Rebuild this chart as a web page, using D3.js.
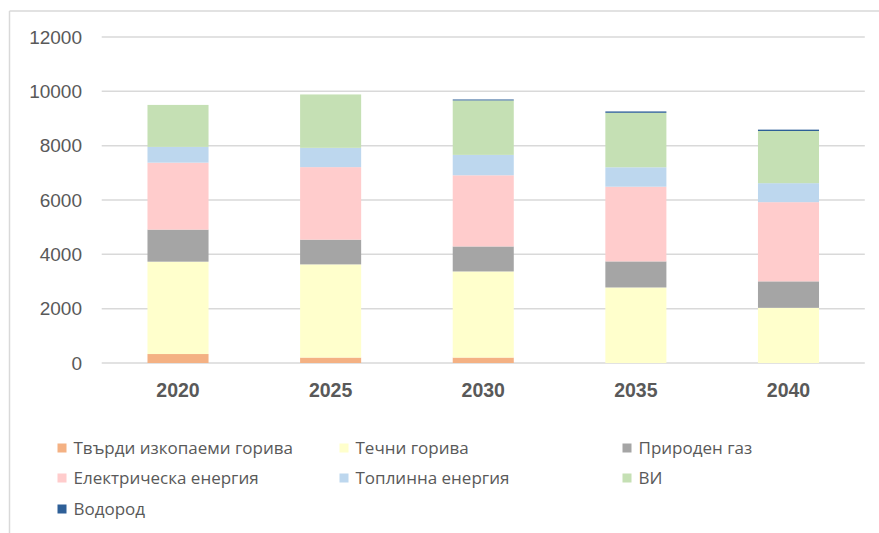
<!DOCTYPE html>
<html><head><meta charset="utf-8">
<script src="https://cdn.jsdelivr.net/npm/d3@7"></script>
<style>body{margin:0;background:#fff}svg{display:block}</style>
</head><body>
<svg id="chart" width="879" height="533"></svg>
<script>
const years = ["2020", "2025", "2030", "2035", "2040"];
const seriesNames = ["Твърди изкопаеми горива", "Течни горива", "Природен газ", "Електрическа енергия", "Топлинна енергия", "ВИ", "Водород"];
const solidFuels = [330, 200, 200, 0, 0];
const liquidFuels = [3400, 3430, 3170, 2780, 2030];
const naturalGas = [1180, 910, 920, 960, 975];
const electricity = [2465, 2670, 2620, 2750, 2915];
const heat = [580, 710, 750, 715, 700];
const renewables = [1545, 1965, 2005, 2005, 1920];
const hydrogen = [0, 0, 35, 50, 50];
const yTicks = [0, 2000, 4000, 6000, 8000, 10000, 12000];
const colors = ["#F4B183", "#FFFFCC", "#A5A5A5", "#FFCCCC", "#BDD7EE", "#C5E0B4", "#2E5F97"];

const seriesValues = [solidFuels, liquidFuels, naturalGas, electricity, heat, renewables, hydrogen];
const keys = seriesNames;
const table = years.map((y, i) => {
  const row = {year: y};
  keys.forEach((k, j) => row[k] = seriesValues[j][i]);
  return row;
});
const stack = d3.stack().keys(keys)(table);

const svg = d3.select("#chart");
const font = "'Liberation Sans', Arial, sans-serif";
const legendFont = "'Open Sans', 'Liberation Sans', sans-serif";
const textColor = "#595959";

// outer border (partial, as in cropped reference)
svg.append("line").attr("x1", 9.5).attr("x2", 9.5).attr("y1", 11).attr("y2", 533).attr("stroke", "#D9D9D9").attr("stroke-width", 1.5);
svg.append("line").attr("x1", 9.5).attr("x2", 879).attr("y1", 11).attr("y2", 11).attr("stroke", "#D9D9D9").attr("stroke-width", 1.5);

const x = d3.scaleBand().domain(years).range([101.7, 864.8]).paddingInner(0.6).paddingOuter(0.3);
const y = d3.scaleLinear().domain([0, 12000]).range([363, 37]);

// gridlines
svg.append("g").selectAll("line").data(yTicks).join("line")
  .attr("x1", 101.7).attr("x2", 864.8)
  .attr("y1", d => y(d)).attr("y2", d => y(d))
  .attr("stroke", "#D9D9D9").attr("stroke-width", 1.5);

// y labels
svg.append("g").selectAll("text").data(yTicks).join("text")
  .attr("x", 82).attr("y", d => y(d)).attr("dy", "0.35em")
  .attr("text-anchor", "end").attr("font-family", font).attr("font-size", 19)
  .attr("fill", textColor).text(d => d);

// bars
svg.append("g").selectAll("g").data(stack).join("g")
  .attr("fill", (d, i) => colors[i])
  .selectAll("rect").data(d => d).join("rect")
  .attr("x", d => x(d.data.year)).attr("width", x.bandwidth())
  .attr("y", d => y(d[1])).attr("height", d => Math.max(0, y(d[0]) - y(d[1])));

// x labels
svg.append("g").selectAll("text").data(years).join("text")
  .attr("x", d => x(d) + x.bandwidth() / 2).attr("y", 397)
  .attr("text-anchor", "middle").attr("font-family", font).attr("font-size", 19.5)
  .attr("font-weight", "bold").attr("fill", textColor).text(d => d);

// legend
const colX = [57.5, 339.5, 622.5];
const rowY = [448, 478, 509];
const lg = svg.append("g").selectAll("g").data(seriesNames).join("g")
  .attr("transform", (d, i) => `translate(${colX[i % 3]},${rowY[Math.floor(i / 3)]})`);
lg.append("rect").attr("x", 0).attr("y", -4.5).attr("width", 9).attr("height", 9)
  .attr("fill", (d, i) => colors[i]);
lg.append("text").attr("x", 16).attr("y", 0).attr("dy", "0.35em")
  .attr("font-family", legendFont).attr("font-size", 17).attr("fill", textColor).text(d => d);
</script>
</body></html>
